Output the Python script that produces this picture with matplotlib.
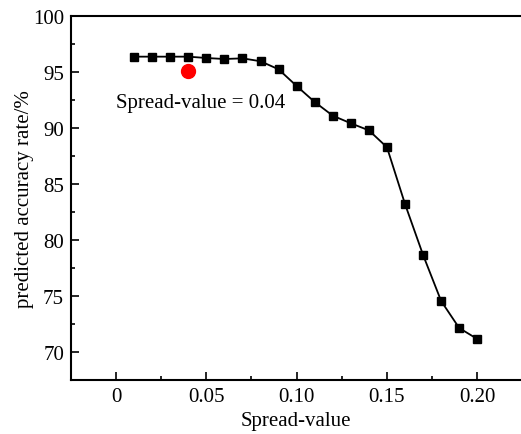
import matplotlib
matplotlib.use("Agg")
import matplotlib.pyplot as plt
from matplotlib.ticker import MultipleLocator, FixedLocator, FixedFormatter

plt.rcParams['font.family'] = ['Liberation Serif', 'DejaVu Serif']
plt.rcParams['mathtext.fontset'] = 'stix'

spread = [0.01, 0.02, 0.03, 0.04, 0.05, 0.06, 0.07, 0.08, 0.09, 0.10,
          0.11, 0.12, 0.13, 0.14, 0.15, 0.16, 0.17, 0.18, 0.19, 0.20]
accuracy = [96.37, 96.37, 96.37, 96.37, 96.25, 96.16, 96.22, 95.96, 95.24, 93.75,
            92.32, 91.10, 90.42, 89.79, 88.28, 83.21, 78.66, 74.55, 72.14, 71.16]
best_x = [0.04]
best_y = [95.06]
annot_text = "Spread-value = 0.04"
xticks = [0, 0.05, 0.10, 0.15, 0.20]
xticklabels = ["0", "0.05", "0.10", "0.15", "0.20"]
yticks = [70, 75, 80, 85, 90, 95, 100]

W, H = 521, 435
fig = plt.figure(figsize=(W / 100, H / 100), dpi=100)
left, right, top, bottom = 71, 521, 17, 381
ax = fig.add_axes([left / W, (H - bottom) / H, (right - left) / W, (bottom - top) / H])

ax.plot(spread, accuracy, color='black', lw=1.3, marker='s', ms=5.4,
        markerfacecolor='black', markeredgecolor='black', zorder=3)
ax.plot(best_x, best_y, 'o', color='#ff0000', ms=10, markeredgecolor='#ff0000', zorder=4)
ax.text(0.0, 91.9, annot_text, fontsize=15, ha='left', va='baseline')

ax.set_xlim(-0.0249, 0.2242)
ax.set_ylim(67.5, 100)
ax.xaxis.set_major_locator(FixedLocator(xticks))
ax.xaxis.set_major_formatter(FixedFormatter(xticklabels))
ax.xaxis.set_minor_locator(MultipleLocator(0.025))
ax.yaxis.set_major_locator(FixedLocator(yticks))
ax.yaxis.set_minor_locator(MultipleLocator(2.5))

ax.tick_params(which='both', direction='in', labelsize=15, width=1.2, pad=5)
ax.tick_params(which='major', length=6)
ax.tick_params(which='minor', length=3)
ax.tick_params(top=False, right=False, which='both')

for s in ['left', 'bottom', 'top']:
    ax.spines[s].set_linewidth(1.5)
ax.spines['right'].set_visible(False)

ax.set_xlabel("Spread-value", fontsize=15, labelpad=4)
ax.set_ylabel("predicted accuracy rate/%", fontsize=15, labelpad=-1)

fig.savefig("out.png", dpi=100)
